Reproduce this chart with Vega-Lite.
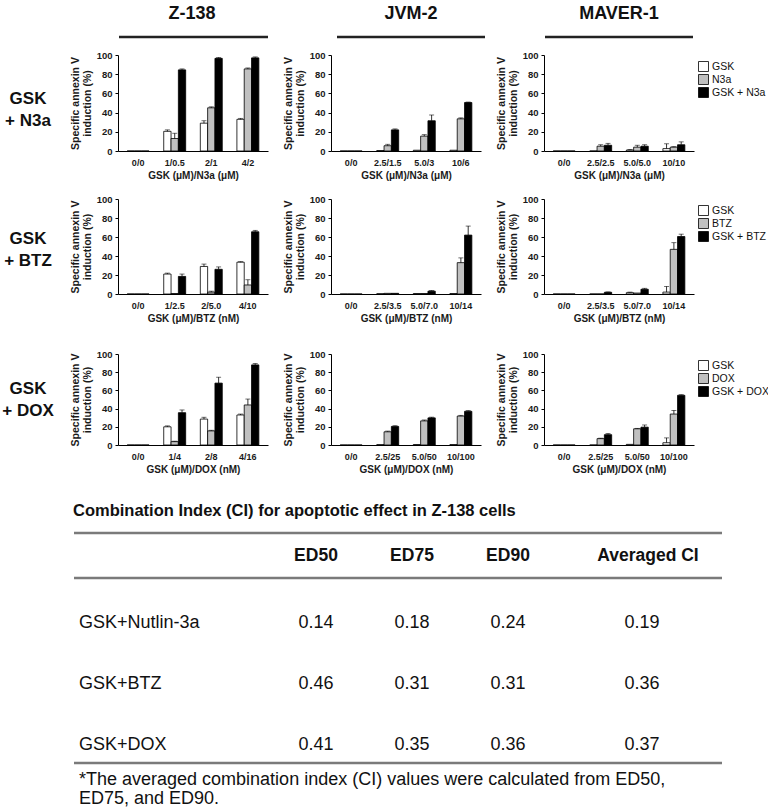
{
"$schema": "https://vega.github.io/schema/vega-lite/v6.json",
"padding": 0,
"background": "white",
"columns": 4,
"align": "each",
"bounds": "flush",
"spacing": {"row": 0, "column": 63},
"resolve": {"scale": {"x": "independent", "y": "independent", "xOffset": "independent", "color": "independent"}, "legend": {"color": "independent"}},
"datasets": {
"bars": [
{"c":"N3a","cell":"Z-138","dose":"0/0","s":"GSK","m":0,"u":0},{"c":"N3a","cell":"Z-138","dose":"0/0","s":"N3a","m":0,"u":0},{"c":"N3a","cell":"Z-138","dose":"0/0","s":"GSK + N3a","m":0,"u":0},
{"c":"N3a","cell":"Z-138","dose":"1/0.5","s":"GSK","m":20.5,"u":22},{"c":"N3a","cell":"Z-138","dose":"1/0.5","s":"N3a","m":13,"u":18.5},{"c":"N3a","cell":"Z-138","dose":"1/0.5","s":"GSK + N3a","m":84.5,"u":85.5},
{"c":"N3a","cell":"Z-138","dose":"2/1","s":"GSK","m":29,"u":31.5},{"c":"N3a","cell":"Z-138","dose":"2/1","s":"N3a","m":45,"u":46},{"c":"N3a","cell":"Z-138","dose":"2/1","s":"GSK + N3a","m":96.5,"u":97.5},
{"c":"N3a","cell":"Z-138","dose":"4/2","s":"GSK","m":33,"u":34},{"c":"N3a","cell":"Z-138","dose":"4/2","s":"N3a","m":85.5,"u":86.5},{"c":"N3a","cell":"Z-138","dose":"4/2","s":"GSK + N3a","m":97,"u":98},
{"c":"N3a","cell":"JVM-2","dose":"0/0","s":"GSK","m":0,"u":0},{"c":"N3a","cell":"JVM-2","dose":"0/0","s":"N3a","m":0,"u":0},{"c":"N3a","cell":"JVM-2","dose":"0/0","s":"GSK + N3a","m":0,"u":0},
{"c":"N3a","cell":"JVM-2","dose":"2.5/1.5","s":"GSK","m":0.5,"u":0.5},{"c":"N3a","cell":"JVM-2","dose":"2.5/1.5","s":"N3a","m":5.5,"u":7},{"c":"N3a","cell":"JVM-2","dose":"2.5/1.5","s":"GSK + N3a","m":22,"u":23},
{"c":"N3a","cell":"JVM-2","dose":"5.0/3","s":"GSK","m":0.8,"u":0.8},{"c":"N3a","cell":"JVM-2","dose":"5.0/3","s":"N3a","m":15.5,"u":17},{"c":"N3a","cell":"JVM-2","dose":"5.0/3","s":"GSK + N3a","m":31.5,"u":37.5},
{"c":"N3a","cell":"JVM-2","dose":"10/6","s":"GSK","m":0.8,"u":0.8},{"c":"N3a","cell":"JVM-2","dose":"10/6","s":"N3a","m":33.5,"u":34.5},{"c":"N3a","cell":"JVM-2","dose":"10/6","s":"GSK + N3a","m":50.5,"u":51},
{"c":"N3a","cell":"MAVER-1","dose":"0/0","s":"GSK","m":0,"u":0},{"c":"N3a","cell":"MAVER-1","dose":"0/0","s":"N3a","m":0,"u":0},{"c":"N3a","cell":"MAVER-1","dose":"0/0","s":"GSK + N3a","m":0,"u":0},
{"c":"N3a","cell":"MAVER-1","dose":"2.5/2.5","s":"GSK","m":0,"u":0},{"c":"N3a","cell":"MAVER-1","dose":"2.5/2.5","s":"N3a","m":5,"u":6.5},{"c":"N3a","cell":"MAVER-1","dose":"2.5/2.5","s":"GSK + N3a","m":6,"u":8},
{"c":"N3a","cell":"MAVER-1","dose":"5.0/5.0","s":"GSK","m":1,"u":1.5},{"c":"N3a","cell":"MAVER-1","dose":"5.0/5.0","s":"N3a","m":4,"u":6},{"c":"N3a","cell":"MAVER-1","dose":"5.0/5.0","s":"GSK + N3a","m":5,"u":6.5},
{"c":"N3a","cell":"MAVER-1","dose":"10/10","s":"GSK","m":2.5,"u":7.5},{"c":"N3a","cell":"MAVER-1","dose":"10/10","s":"N3a","m":4,"u":4.5},{"c":"N3a","cell":"MAVER-1","dose":"10/10","s":"GSK + N3a","m":6.5,"u":9.5},
{"c":"BTZ","cell":"Z-138","dose":"0/0","s":"GSK","m":0,"u":0},{"c":"BTZ","cell":"Z-138","dose":"0/0","s":"BTZ","m":0,"u":0},{"c":"BTZ","cell":"Z-138","dose":"0/0","s":"GSK + BTZ","m":0,"u":0},
{"c":"BTZ","cell":"Z-138","dose":"1/2.5","s":"GSK","m":21,"u":22},{"c":"BTZ","cell":"Z-138","dose":"1/2.5","s":"BTZ","m":0.5,"u":0.5},{"c":"BTZ","cell":"Z-138","dose":"1/2.5","s":"GSK + BTZ","m":18.5,"u":21},
{"c":"BTZ","cell":"Z-138","dose":"2/5.0","s":"GSK","m":29,"u":31.5},{"c":"BTZ","cell":"Z-138","dose":"2/5.0","s":"BTZ","m":2,"u":3},{"c":"BTZ","cell":"Z-138","dose":"2/5.0","s":"GSK + BTZ","m":26,"u":28.5},
{"c":"BTZ","cell":"Z-138","dose":"4/10","s":"GSK","m":33.5,"u":34},{"c":"BTZ","cell":"Z-138","dose":"4/10","s":"BTZ","m":9.5,"u":15},{"c":"BTZ","cell":"Z-138","dose":"4/10","s":"GSK + BTZ","m":65.5,"u":67},
{"c":"BTZ","cell":"JVM-2","dose":"0/0","s":"GSK","m":0,"u":0},{"c":"BTZ","cell":"JVM-2","dose":"0/0","s":"BTZ","m":0,"u":0},{"c":"BTZ","cell":"JVM-2","dose":"0/0","s":"GSK + BTZ","m":0,"u":0},
{"c":"BTZ","cell":"JVM-2","dose":"2.5/3.5","s":"GSK","m":0.3,"u":0.3},{"c":"BTZ","cell":"JVM-2","dose":"2.5/3.5","s":"BTZ","m":0.7,"u":0.7},{"c":"BTZ","cell":"JVM-2","dose":"2.5/3.5","s":"GSK + BTZ","m":0.7,"u":0.7},
{"c":"BTZ","cell":"JVM-2","dose":"5.0/7.0","s":"GSK","m":0.5,"u":0.5},{"c":"BTZ","cell":"JVM-2","dose":"5.0/7.0","s":"BTZ","m":0.5,"u":0.5},{"c":"BTZ","cell":"JVM-2","dose":"5.0/7.0","s":"GSK + BTZ","m":3,"u":3.7},
{"c":"BTZ","cell":"JVM-2","dose":"10/14","s":"GSK","m":0.5,"u":0.5},{"c":"BTZ","cell":"JVM-2","dose":"10/14","s":"BTZ","m":33,"u":38},{"c":"BTZ","cell":"JVM-2","dose":"10/14","s":"GSK + BTZ","m":62,"u":71.5},
{"c":"BTZ","cell":"MAVER-1","dose":"0/0","s":"GSK","m":0,"u":0},{"c":"BTZ","cell":"MAVER-1","dose":"0/0","s":"BTZ","m":0,"u":0},{"c":"BTZ","cell":"MAVER-1","dose":"0/0","s":"GSK + BTZ","m":0,"u":0},
{"c":"BTZ","cell":"MAVER-1","dose":"2.5/3.5","s":"GSK","m":0,"u":0},{"c":"BTZ","cell":"MAVER-1","dose":"2.5/3.5","s":"BTZ","m":0,"u":0},{"c":"BTZ","cell":"MAVER-1","dose":"2.5/3.5","s":"GSK + BTZ","m":1.8,"u":2.2},
{"c":"BTZ","cell":"MAVER-1","dose":"5.0/7.0","s":"GSK","m":1.4,"u":2},{"c":"BTZ","cell":"MAVER-1","dose":"5.0/7.0","s":"BTZ","m":1,"u":1},{"c":"BTZ","cell":"MAVER-1","dose":"5.0/7.0","s":"GSK + BTZ","m":5,"u":6},
{"c":"BTZ","cell":"MAVER-1","dose":"10/14","s":"GSK","m":2,"u":8},{"c":"BTZ","cell":"MAVER-1","dose":"10/14","s":"BTZ","m":47,"u":54},{"c":"BTZ","cell":"MAVER-1","dose":"10/14","s":"GSK + BTZ","m":60.5,"u":63},
{"c":"DOX","cell":"Z-138","dose":"0/0","s":"GSK","m":0,"u":0},{"c":"DOX","cell":"Z-138","dose":"0/0","s":"DOX","m":0,"u":0},{"c":"DOX","cell":"Z-138","dose":"0/0","s":"GSK + DOX","m":0,"u":0},
{"c":"DOX","cell":"Z-138","dose":"1/4","s":"GSK","m":20,"u":21},{"c":"DOX","cell":"Z-138","dose":"1/4","s":"DOX","m":3.7,"u":4.2},{"c":"DOX","cell":"Z-138","dose":"1/4","s":"GSK + DOX","m":35.5,"u":38.5},
{"c":"DOX","cell":"Z-138","dose":"2/8","s":"GSK","m":28.5,"u":30.5},{"c":"DOX","cell":"Z-138","dose":"2/8","s":"DOX","m":15.5,"u":16.2},{"c":"DOX","cell":"Z-138","dose":"2/8","s":"GSK + DOX","m":68,"u":74.5},
{"c":"DOX","cell":"Z-138","dose":"4/16","s":"GSK","m":33,"u":34},{"c":"DOX","cell":"Z-138","dose":"4/16","s":"DOX","m":44,"u":50.5},{"c":"DOX","cell":"Z-138","dose":"4/16","s":"GSK + DOX","m":88,"u":89.5},
{"c":"DOX","cell":"JVM-2","dose":"0/0","s":"GSK","m":0,"u":0},{"c":"DOX","cell":"JVM-2","dose":"0/0","s":"DOX","m":0,"u":0},{"c":"DOX","cell":"JVM-2","dose":"0/0","s":"GSK + DOX","m":0,"u":0},
{"c":"DOX","cell":"JVM-2","dose":"2.5/25","s":"GSK","m":0.4,"u":0.4},{"c":"DOX","cell":"JVM-2","dose":"2.5/25","s":"DOX","m":14.5,"u":15.3},{"c":"DOX","cell":"JVM-2","dose":"2.5/25","s":"GSK + DOX","m":20.4,"u":21.2},
{"c":"DOX","cell":"JVM-2","dose":"5.0/50","s":"GSK","m":0.5,"u":0.5},{"c":"DOX","cell":"JVM-2","dose":"5.0/50","s":"DOX","m":26.5,"u":27.5},{"c":"DOX","cell":"JVM-2","dose":"5.0/50","s":"GSK + DOX","m":29.8,"u":30.6},
{"c":"DOX","cell":"JVM-2","dose":"10/100","s":"GSK","m":0.5,"u":0.5},{"c":"DOX","cell":"JVM-2","dose":"10/100","s":"DOX","m":31.8,"u":32.6},{"c":"DOX","cell":"JVM-2","dose":"10/100","s":"GSK + DOX","m":37,"u":37.8},
{"c":"DOX","cell":"MAVER-1","dose":"0/0","s":"GSK","m":0,"u":0},{"c":"DOX","cell":"MAVER-1","dose":"0/0","s":"DOX","m":0,"u":0},{"c":"DOX","cell":"MAVER-1","dose":"0/0","s":"GSK + DOX","m":0,"u":0},
{"c":"DOX","cell":"MAVER-1","dose":"2.5/25","s":"GSK","m":0,"u":0},{"c":"DOX","cell":"MAVER-1","dose":"2.5/25","s":"DOX","m":7,"u":7.5},{"c":"DOX","cell":"MAVER-1","dose":"2.5/25","s":"GSK + DOX","m":11.4,"u":12.6},
{"c":"DOX","cell":"MAVER-1","dose":"5.0/50","s":"GSK","m":0.7,"u":0.7},{"c":"DOX","cell":"MAVER-1","dose":"5.0/50","s":"DOX","m":17.8,"u":18.3},{"c":"DOX","cell":"MAVER-1","dose":"5.0/50","s":"GSK + DOX","m":19.6,"u":22},
{"c":"DOX","cell":"MAVER-1","dose":"10/100","s":"GSK","m":2.5,"u":7.8},{"c":"DOX","cell":"MAVER-1","dose":"10/100","s":"DOX","m":34,"u":38},{"c":"DOX","cell":"MAVER-1","dose":"10/100","s":"GSK + DOX","m":54.6,"u":55.3}
],
"ci": [
{"row":"GSK+Nutlin-3a","col":"ED50","v":0.14},{"row":"GSK+Nutlin-3a","col":"ED75","v":0.18},{"row":"GSK+Nutlin-3a","col":"ED90","v":0.24},{"row":"GSK+Nutlin-3a","col":"Averaged CI","v":0.19},
{"row":"GSK+BTZ","col":"ED50","v":0.46},{"row":"GSK+BTZ","col":"ED75","v":0.31},{"row":"GSK+BTZ","col":"ED90","v":0.31},{"row":"GSK+BTZ","col":"Averaged CI","v":0.36},
{"row":"GSK+DOX","col":"ED50","v":0.41},{"row":"GSK+DOX","col":"ED75","v":0.35},{"row":"GSK+DOX","col":"ED90","v":0.36},{"row":"GSK+DOX","col":"Averaged CI","v":0.37}
]
},
"concat": [
{"width":55,"height":55,"data":{"values":[{"t":" "}]},"mark":{"type":"text","baseline":"middle"},"encoding":{"text":{"field":"t"},"x":{"value":20},"y":{"value":30}}},
{"width":150,"height":55,"data":{"values":[{"t":"Z-138"}]},"layer":[
 {"mark":{"type":"text","fontSize":18,"fontWeight":"bold","align":"center","baseline":"middle","color":"#111"},"encoding":{"text":{"field":"t"},"x":{"value":74},"y":{"value":14}}},
 {"mark":{"type":"rule","strokeWidth":2.5,"color":"#222"},"encoding":{"x":{"value":1},"x2":{"value":150},"y":{"value":37}}}]},
{"width":150,"height":55,"data":{"values":[{"t":"JVM-2"}]},"layer":[
 {"mark":{"type":"text","fontSize":18,"fontWeight":"bold","align":"center","baseline":"middle","color":"#111"},"encoding":{"text":{"field":"t"},"x":{"value":80},"y":{"value":14}}},
 {"mark":{"type":"rule","strokeWidth":2.5,"color":"#222"},"encoding":{"x":{"value":6},"x2":{"value":154},"y":{"value":37}}}]},
{"width":150,"height":55,"data":{"values":[{"t":"MAVER-1"}]},"layer":[
 {"mark":{"type":"text","fontSize":18,"fontWeight":"bold","align":"center","baseline":"middle","color":"#111"},"encoding":{"text":{"field":"t"},"x":{"value":75},"y":{"value":14}}},
 {"mark":{"type":"rule","strokeWidth":2.5,"color":"#222"},"encoding":{"x":{"value":1},"x2":{"value":149},"y":{"value":37}}}]},

{"width":55,"height":144,"data":{"values":[{"t":"GSK\n+ N3a"}]},"mark":{"type":"text","fontSize":17,"fontWeight":"bold","lineBreak":"\n","lineHeight":22,"align":"center","baseline":"middle","color":"#111"},"encoding":{"text":{"field":"t"},"x":{"value":28},"y":{"value":44}}},
{"width":150,"height":96,"data":{"name":"bars"},"transform":[{"filter":"datum.c==='N3a' && datum.cell==='Z-138'"}],
 "encoding":{"x":{"field":"dose","type":"nominal","scale":{"domain":["0/0","1/0.5","2/1","4/2"],"paddingInner":0.4,"paddingOuter":0.25},"axis":{"title":"GSK (μM)/N3a (μM)"}},"xOffset":{"field":"s","type":"nominal","scale":{"domain":["GSK","N3a","GSK + N3a"]}}},
 "layer":[
 {"mark":{"type":"bar","stroke":"black","strokeWidth":0.8},"encoding":{"y":{"field":"m","type":"quantitative","scale":{"domain":[0,100]},"axis":{"values":[0,20,40,60,80,100],"tickCount":10,"labelOverlap":false,"title":["Specific annexin V","induction (%)"]}},"color":{"field":"s","type":"nominal","scale":{"domain":["GSK","N3a","GSK + N3a"],"range":["#ffffff","#c0c0c0","#000000"]},"legend":null}}},
 {"transform":[{"filter":"datum.u>datum.m"}],"mark":{"type":"rule","color":"black","strokeWidth":0.8},"encoding":{"y":{"field":"m","type":"quantitative","axis":{"values":[0,20,40,60,80,100],"tickCount":10,"labelOverlap":false,"title":["Specific annexin V","induction (%)"]}},"y2":{"field":"u"}}},
 {"transform":[{"filter":"datum.u>datum.m"}],"mark":{"type":"tick","color":"black","thickness":0.8,"size":5},"encoding":{"y":{"field":"u","type":"quantitative","axis":{"values":[0,20,40,60,80,100],"tickCount":10,"labelOverlap":false,"title":["Specific annexin V","induction (%)"]}}}}]},
{"width":150,"height":96,"data":{"name":"bars"},"transform":[{"filter":"datum.c==='N3a' && datum.cell==='JVM-2'"}],
 "encoding":{"x":{"field":"dose","type":"nominal","scale":{"domain":["0/0","2.5/1.5","5.0/3","10/6"],"paddingInner":0.4,"paddingOuter":0.25},"axis":{"title":"GSK (μM)/N3a (μM)"}},"xOffset":{"field":"s","type":"nominal","scale":{"domain":["GSK","N3a","GSK + N3a"]}}},
 "layer":[
 {"mark":{"type":"bar","stroke":"black","strokeWidth":0.8},"encoding":{"y":{"field":"m","type":"quantitative","scale":{"domain":[0,100]},"axis":{"values":[0,20,40,60,80,100],"tickCount":10,"labelOverlap":false,"title":["Specific annexin V","induction (%)"]}},"color":{"field":"s","type":"nominal","scale":{"domain":["GSK","N3a","GSK + N3a"],"range":["#ffffff","#c0c0c0","#000000"]},"legend":null}}},
 {"transform":[{"filter":"datum.u>datum.m"}],"mark":{"type":"rule","color":"black","strokeWidth":0.8},"encoding":{"y":{"field":"m","type":"quantitative","axis":{"values":[0,20,40,60,80,100],"tickCount":10,"labelOverlap":false,"title":["Specific annexin V","induction (%)"]}},"y2":{"field":"u"}}},
 {"transform":[{"filter":"datum.u>datum.m"}],"mark":{"type":"tick","color":"black","thickness":0.8,"size":5},"encoding":{"y":{"field":"u","type":"quantitative","axis":{"values":[0,20,40,60,80,100],"tickCount":10,"labelOverlap":false,"title":["Specific annexin V","induction (%)"]}}}}]},
{"width":150,"height":96,"data":{"name":"bars"},"transform":[{"filter":"datum.c==='N3a' && datum.cell==='MAVER-1'"}],
 "encoding":{"x":{"field":"dose","type":"nominal","scale":{"domain":["0/0","2.5/2.5","5.0/5.0","10/10"],"paddingInner":0.4,"paddingOuter":0.25},"axis":{"title":"GSK (μM)/N3a (μM)"}},"xOffset":{"field":"s","type":"nominal","scale":{"domain":["GSK","N3a","GSK + N3a"]}}},
 "layer":[
 {"mark":{"type":"bar","stroke":"black","strokeWidth":0.8},"encoding":{"y":{"field":"m","type":"quantitative","scale":{"domain":[0,100]},"axis":{"values":[0,20,40,60,80,100],"tickCount":10,"labelOverlap":false,"title":["Specific annexin V","induction (%)"]}},"color":{"field":"s","type":"nominal","scale":{"domain":["GSK","N3a","GSK + N3a"],"range":["#ffffff","#c0c0c0","#000000"]},"legend":{"orient":"none","legendX":154,"legendY":6,"title":null,"symbolType":"square","symbolSize":100,"symbolStrokeColor":"black","symbolStrokeWidth":0.8,"labelFontSize":10.5,"labelFontWeight":"normal","labelColor":"#111","rowPadding":-5,"labelOffset":3}}}},
 {"transform":[{"filter":"datum.u>datum.m"}],"mark":{"type":"rule","color":"black","strokeWidth":0.8},"encoding":{"y":{"field":"m","type":"quantitative","axis":{"values":[0,20,40,60,80,100],"tickCount":10,"labelOverlap":false,"title":["Specific annexin V","induction (%)"]}},"y2":{"field":"u"}}},
 {"transform":[{"filter":"datum.u>datum.m"}],"mark":{"type":"tick","color":"black","thickness":0.8,"size":5},"encoding":{"y":{"field":"u","type":"quantitative","axis":{"values":[0,20,40,60,80,100],"tickCount":10,"labelOverlap":false,"title":["Specific annexin V","induction (%)"]}}}}]},

{"width":55,"height":155,"data":{"values":[{"t":"GSK\n+ BTZ"}]},"mark":{"type":"text","fontSize":17,"fontWeight":"bold","lineBreak":"\n","lineHeight":22,"align":"center","baseline":"middle","color":"#111"},"encoding":{"text":{"field":"t"},"x":{"value":28},"y":{"value":40}}},
{"width":150,"height":95,"data":{"name":"bars"},"transform":[{"filter":"datum.c==='BTZ' && datum.cell==='Z-138'"}],
 "encoding":{"x":{"field":"dose","type":"nominal","scale":{"domain":["0/0","1/2.5","2/5.0","4/10"],"paddingInner":0.4,"paddingOuter":0.25},"axis":{"title":"GSK (μM)/BTZ (nM)"}},"xOffset":{"field":"s","type":"nominal","scale":{"domain":["GSK","BTZ","GSK + BTZ"]}}},
 "layer":[
 {"mark":{"type":"bar","stroke":"black","strokeWidth":0.8},"encoding":{"y":{"field":"m","type":"quantitative","scale":{"domain":[0,100]},"axis":{"values":[0,20,40,60,80,100],"tickCount":10,"labelOverlap":false,"title":["Specific annexin V","induction (%)"]}},"color":{"field":"s","type":"nominal","scale":{"domain":["GSK","BTZ","GSK + BTZ"],"range":["#ffffff","#c0c0c0","#000000"]},"legend":null}}},
 {"transform":[{"filter":"datum.u>datum.m"}],"mark":{"type":"rule","color":"black","strokeWidth":0.8},"encoding":{"y":{"field":"m","type":"quantitative","axis":{"values":[0,20,40,60,80,100],"tickCount":10,"labelOverlap":false,"title":["Specific annexin V","induction (%)"]}},"y2":{"field":"u"}}},
 {"transform":[{"filter":"datum.u>datum.m"}],"mark":{"type":"tick","color":"black","thickness":0.8,"size":5},"encoding":{"y":{"field":"u","type":"quantitative","axis":{"values":[0,20,40,60,80,100],"tickCount":10,"labelOverlap":false,"title":["Specific annexin V","induction (%)"]}}}}]},
{"width":150,"height":95,"data":{"name":"bars"},"transform":[{"filter":"datum.c==='BTZ' && datum.cell==='JVM-2'"}],
 "encoding":{"x":{"field":"dose","type":"nominal","scale":{"domain":["0/0","2.5/3.5","5.0/7.0","10/14"],"paddingInner":0.4,"paddingOuter":0.25},"axis":{"title":"GSK (μM)/BTZ (nM)"}},"xOffset":{"field":"s","type":"nominal","scale":{"domain":["GSK","BTZ","GSK + BTZ"]}}},
 "layer":[
 {"mark":{"type":"bar","stroke":"black","strokeWidth":0.8},"encoding":{"y":{"field":"m","type":"quantitative","scale":{"domain":[0,100]},"axis":{"values":[0,20,40,60,80,100],"tickCount":10,"labelOverlap":false,"title":["Specific annexin V","induction (%)"]}},"color":{"field":"s","type":"nominal","scale":{"domain":["GSK","BTZ","GSK + BTZ"],"range":["#ffffff","#c0c0c0","#000000"]},"legend":null}}},
 {"transform":[{"filter":"datum.u>datum.m"}],"mark":{"type":"rule","color":"black","strokeWidth":0.8},"encoding":{"y":{"field":"m","type":"quantitative","axis":{"values":[0,20,40,60,80,100],"tickCount":10,"labelOverlap":false,"title":["Specific annexin V","induction (%)"]}},"y2":{"field":"u"}}},
 {"transform":[{"filter":"datum.u>datum.m"}],"mark":{"type":"tick","color":"black","thickness":0.8,"size":5},"encoding":{"y":{"field":"u","type":"quantitative","axis":{"values":[0,20,40,60,80,100],"tickCount":10,"labelOverlap":false,"title":["Specific annexin V","induction (%)"]}}}}]},
{"width":150,"height":95,"data":{"name":"bars"},"transform":[{"filter":"datum.c==='BTZ' && datum.cell==='MAVER-1'"}],
 "encoding":{"x":{"field":"dose","type":"nominal","scale":{"domain":["0/0","2.5/3.5","5.0/7.0","10/14"],"paddingInner":0.4,"paddingOuter":0.25},"axis":{"title":"GSK (μM)/BTZ (nM)"}},"xOffset":{"field":"s","type":"nominal","scale":{"domain":["GSK","BTZ","GSK + BTZ"]}}},
 "layer":[
 {"mark":{"type":"bar","stroke":"black","strokeWidth":0.8},"encoding":{"y":{"field":"m","type":"quantitative","scale":{"domain":[0,100]},"axis":{"values":[0,20,40,60,80,100],"tickCount":10,"labelOverlap":false,"title":["Specific annexin V","induction (%)"]}},"color":{"field":"s","type":"nominal","scale":{"domain":["GSK","BTZ","GSK + BTZ"],"range":["#ffffff","#c0c0c0","#000000"]},"legend":{"orient":"none","legendX":154,"legendY":6,"title":null,"symbolType":"square","symbolSize":100,"symbolStrokeColor":"black","symbolStrokeWidth":0.8,"labelFontSize":10.5,"labelFontWeight":"normal","labelColor":"#111","rowPadding":-5,"labelOffset":3}}}},
 {"transform":[{"filter":"datum.u>datum.m"}],"mark":{"type":"rule","color":"black","strokeWidth":0.8},"encoding":{"y":{"field":"m","type":"quantitative","axis":{"values":[0,20,40,60,80,100],"tickCount":10,"labelOverlap":false,"title":["Specific annexin V","induction (%)"]}},"y2":{"field":"u"}}},
 {"transform":[{"filter":"datum.u>datum.m"}],"mark":{"type":"tick","color":"black","thickness":0.8,"size":5},"encoding":{"y":{"field":"u","type":"quantitative","axis":{"values":[0,20,40,60,80,100],"tickCount":10,"labelOverlap":false,"title":["Specific annexin V","induction (%)"]}}}}]},

{"width":55,"height":136,"data":{"values":[{"t":"GSK\n+ DOX"}]},"mark":{"type":"text","fontSize":17,"fontWeight":"bold","lineBreak":"\n","lineHeight":22,"align":"center","baseline":"middle","color":"#111"},"encoding":{"text":{"field":"t"},"x":{"value":28},"y":{"value":35}}},
{"width":150,"height":91,"data":{"name":"bars"},"transform":[{"filter":"datum.c==='DOX' && datum.cell==='Z-138'"}],
 "encoding":{"x":{"field":"dose","type":"nominal","scale":{"domain":["0/0","1/4","2/8","4/16"],"paddingInner":0.4,"paddingOuter":0.25},"axis":{"title":"GSK (μM)/DOX (nM)"}},"xOffset":{"field":"s","type":"nominal","scale":{"domain":["GSK","DOX","GSK + DOX"]}}},
 "layer":[
 {"mark":{"type":"bar","stroke":"black","strokeWidth":0.8},"encoding":{"y":{"field":"m","type":"quantitative","scale":{"domain":[0,100]},"axis":{"values":[0,20,40,60,80,100],"tickCount":10,"labelOverlap":false,"title":["Specific annexin V","induction (%)"]}},"color":{"field":"s","type":"nominal","scale":{"domain":["GSK","DOX","GSK + DOX"],"range":["#ffffff","#c0c0c0","#000000"]},"legend":null}}},
 {"transform":[{"filter":"datum.u>datum.m"}],"mark":{"type":"rule","color":"black","strokeWidth":0.8},"encoding":{"y":{"field":"m","type":"quantitative","axis":{"values":[0,20,40,60,80,100],"tickCount":10,"labelOverlap":false,"title":["Specific annexin V","induction (%)"]}},"y2":{"field":"u"}}},
 {"transform":[{"filter":"datum.u>datum.m"}],"mark":{"type":"tick","color":"black","thickness":0.8,"size":5},"encoding":{"y":{"field":"u","type":"quantitative","axis":{"values":[0,20,40,60,80,100],"tickCount":10,"labelOverlap":false,"title":["Specific annexin V","induction (%)"]}}}}]},
{"width":150,"height":91,"data":{"name":"bars"},"transform":[{"filter":"datum.c==='DOX' && datum.cell==='JVM-2'"}],
 "encoding":{"x":{"field":"dose","type":"nominal","scale":{"domain":["0/0","2.5/25","5.0/50","10/100"],"paddingInner":0.4,"paddingOuter":0.25},"axis":{"title":"GSK (μM)/DOX (nM)"}},"xOffset":{"field":"s","type":"nominal","scale":{"domain":["GSK","DOX","GSK + DOX"]}}},
 "layer":[
 {"mark":{"type":"bar","stroke":"black","strokeWidth":0.8},"encoding":{"y":{"field":"m","type":"quantitative","scale":{"domain":[0,100]},"axis":{"values":[0,20,40,60,80,100],"tickCount":10,"labelOverlap":false,"title":["Specific annexin V","induction (%)"]}},"color":{"field":"s","type":"nominal","scale":{"domain":["GSK","DOX","GSK + DOX"],"range":["#ffffff","#c0c0c0","#000000"]},"legend":null}}},
 {"transform":[{"filter":"datum.u>datum.m"}],"mark":{"type":"rule","color":"black","strokeWidth":0.8},"encoding":{"y":{"field":"m","type":"quantitative","axis":{"values":[0,20,40,60,80,100],"tickCount":10,"labelOverlap":false,"title":["Specific annexin V","induction (%)"]}},"y2":{"field":"u"}}},
 {"transform":[{"filter":"datum.u>datum.m"}],"mark":{"type":"tick","color":"black","thickness":0.8,"size":5},"encoding":{"y":{"field":"u","type":"quantitative","axis":{"values":[0,20,40,60,80,100],"tickCount":10,"labelOverlap":false,"title":["Specific annexin V","induction (%)"]}}}}]},
{"width":150,"height":91,"data":{"name":"bars"},"transform":[{"filter":"datum.c==='DOX' && datum.cell==='MAVER-1'"}],
 "encoding":{"x":{"field":"dose","type":"nominal","scale":{"domain":["0/0","2.5/25","5.0/50","10/100"],"paddingInner":0.4,"paddingOuter":0.25},"axis":{"title":"GSK (μM)/DOX (nM)"}},"xOffset":{"field":"s","type":"nominal","scale":{"domain":["GSK","DOX","GSK + DOX"]}}},
 "layer":[
 {"mark":{"type":"bar","stroke":"black","strokeWidth":0.8},"encoding":{"y":{"field":"m","type":"quantitative","scale":{"domain":[0,100]},"axis":{"values":[0,20,40,60,80,100],"tickCount":10,"labelOverlap":false,"title":["Specific annexin V","induction (%)"]}},"color":{"field":"s","type":"nominal","scale":{"domain":["GSK","DOX","GSK + DOX"],"range":["#ffffff","#c0c0c0","#000000"]},"legend":{"orient":"none","legendX":154,"legendY":6,"title":null,"symbolType":"square","symbolSize":100,"symbolStrokeColor":"black","symbolStrokeWidth":0.8,"labelFontSize":10.5,"labelFontWeight":"normal","labelColor":"#111","rowPadding":-5,"labelOffset":3}}}},
 {"transform":[{"filter":"datum.u>datum.m"}],"mark":{"type":"rule","color":"black","strokeWidth":0.8},"encoding":{"y":{"field":"m","type":"quantitative","axis":{"values":[0,20,40,60,80,100],"tickCount":10,"labelOverlap":false,"title":["Specific annexin V","induction (%)"]}},"y2":{"field":"u"}}},
 {"transform":[{"filter":"datum.u>datum.m"}],"mark":{"type":"tick","color":"black","thickness":0.8,"size":5},"encoding":{"y":{"field":"u","type":"quantitative","axis":{"values":[0,20,40,60,80,100],"tickCount":10,"labelOverlap":false,"title":["Specific annexin V","induction (%)"]}}}}]},

{"width":55,"height":318,"layer":[
 {"data":{"values":[{"t":"Combination Index (CI) for apoptotic effect  in Z-138 cells"}]},"mark":{"type":"text","align":"left","baseline":"middle","fontSize":16.5,"fontWeight":"bold","color":"#111"},"encoding":{"text":{"field":"t"},"x":{"value":73},"y":{"value":21}}},
 {"data":{"values":[{"t":"top"}]},"mark":{"type":"rule","color":"#7a7a7a","strokeWidth":2.5},"encoding":{"x":{"value":74},"x2":{"value":722},"y":{"value":43}}},
 {"data":{"values":[{"t":"mid"}]},"mark":{"type":"rule","color":"#7a7a7a","strokeWidth":2.5},"encoding":{"x":{"value":74},"x2":{"value":722},"y":{"value":88}}},
 {"data":{"values":[{"t":"bottom"}]},"mark":{"type":"rule","color":"#7a7a7a","strokeWidth":2.5},"encoding":{"x":{"value":74},"x2":{"value":722},"y":{"value":273}}},
 {"data":{"values":[{"h":"ED50"}]},"mark":{"type":"text","fontSize":17.5,"fontWeight":"bold","align":"center","baseline":"middle","color":"#111"},"encoding":{"text":{"field":"h"},"x":{"value":316},"y":{"value":66}}},
 {"data":{"values":[{"h":"ED75"}]},"mark":{"type":"text","fontSize":17.5,"fontWeight":"bold","align":"center","baseline":"middle","color":"#111"},"encoding":{"text":{"field":"h"},"x":{"value":412},"y":{"value":66}}},
 {"data":{"values":[{"h":"ED90"}]},"mark":{"type":"text","fontSize":17.5,"fontWeight":"bold","align":"center","baseline":"middle","color":"#111"},"encoding":{"text":{"field":"h"},"x":{"value":508},"y":{"value":66}}},
 {"data":{"values":[{"h":"Averaged CI"}]},"mark":{"type":"text","fontSize":17.5,"fontWeight":"bold","align":"center","baseline":"middle","color":"#111"},"encoding":{"text":{"field":"h"},"x":{"value":648},"y":{"value":66}}},
 {"data":{"name":"ci"},"transform":[{"filter":"datum.col==='ED50'"}],"mark":{"type":"text","fontSize":18,"align":"center","baseline":"middle","color":"#111"},"encoding":{"text":{"field":"v","format":".2f"},"x":{"value":316},"y":{"field":"row","type":"nominal","sort":null,"scale":{"type":"point","domain":["GSK+Nutlin-3a","GSK+BTZ","GSK+DOX"],"range":[133,255],"padding":0},"axis":null}}},
 {"data":{"name":"ci"},"transform":[{"filter":"datum.col==='ED75'"}],"mark":{"type":"text","fontSize":18,"align":"center","baseline":"middle","color":"#111"},"encoding":{"text":{"field":"v","format":".2f"},"x":{"value":412},"y":{"field":"row","type":"nominal","axis":null}}},
 {"data":{"name":"ci"},"transform":[{"filter":"datum.col==='ED90'"}],"mark":{"type":"text","fontSize":18,"align":"center","baseline":"middle","color":"#111"},"encoding":{"text":{"field":"v","format":".2f"},"x":{"value":508},"y":{"field":"row","type":"nominal","axis":null}}},
 {"data":{"name":"ci"},"transform":[{"filter":"datum.col==='Averaged CI'"}],"mark":{"type":"text","fontSize":18,"align":"center","baseline":"middle","color":"#111"},"encoding":{"text":{"field":"v","format":".2f"},"x":{"value":642},"y":{"field":"row","type":"nominal","axis":null}}},
 {"data":{"name":"ci"},"transform":[{"filter":"datum.col==='ED50'"}],"mark":{"type":"text","fontSize":18,"align":"left","baseline":"middle","color":"#111"},"encoding":{"text":{"field":"row"},"x":{"value":79},"y":{"field":"row","type":"nominal","axis":null}}},
 {"data":{"values":[{"t":"*The averaged combination index (CI) values were calculated from ED50,\nED75, and ED90."}]},"mark":{"type":"text","align":"left","baseline":"alphabetic","fontSize":18,"lineBreak":"\n","lineHeight":19,"color":"#111"},"encoding":{"text":{"field":"t"},"x":{"value":79},"y":{"value":295}}}
]}
],
"config": {
 "font": "Liberation Sans",
 "view": {"stroke": null},
 "axis": {"grid": false, "domainColor": "#000", "tickColor": "#000", "labelColor": "#1a1a1a", "titleColor": "#1a1a1a", "labelFontWeight": "bold", "titleFontWeight": "bold", "labelOverlap": false},
 "axisX": {"ticks": false, "labelAngle": 0, "labelFontSize": 9, "labelPadding": 7, "titleFontSize": 10, "titlePadding": 3},
 "axisY": {"tickSize": 3, "tickCount": 10, "labelFontSize": 9.5, "labelPadding": 3, "titleFontSize": 10.5, "titlePadding": 4, "titleLineHeight": 12},
 "legend": {"labelFont": "Liberation Sans"}
}
}
